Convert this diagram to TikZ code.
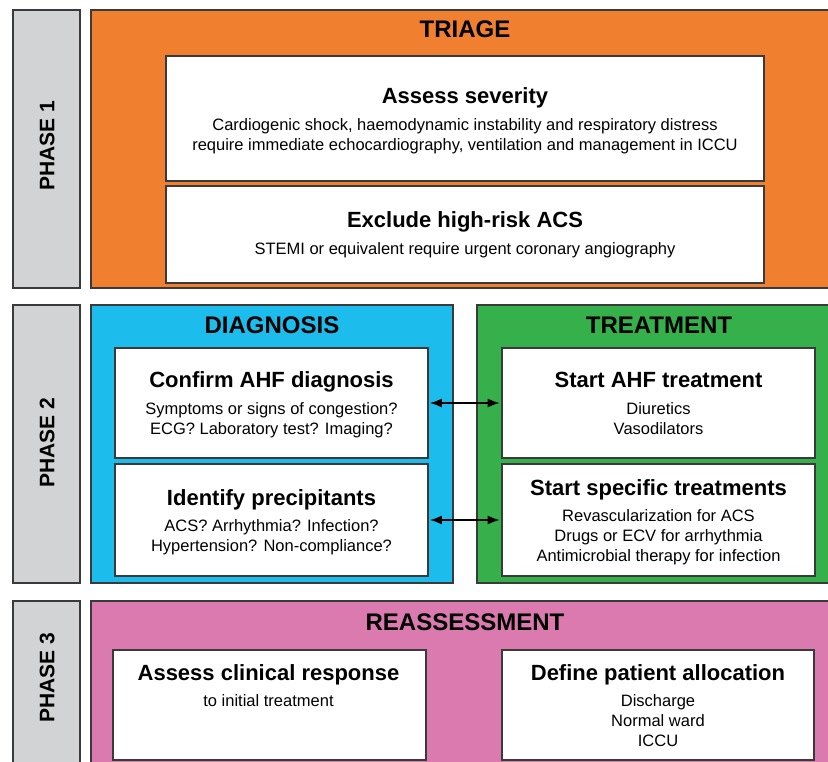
\documentclass[tikz,border=0pt]{standalone}
\usepackage{fontspec}
\setmainfont{Liberation Sans}
\usetikzlibrary{arrows.meta}
\definecolor{edge}{HTML}{3A3A3A}
\definecolor{phasegrey}{HTML}{D1D3D4}
\definecolor{triageorange}{HTML}{F07F30}
\definecolor{diagblue}{HTML}{1CBDEC}
\definecolor{treatgreen}{HTML}{36B04A}
\definecolor{reasspink}{HTML}{DA7AAE}
\begin{document}
\begin{tikzpicture}[x=1pt,y=-1pt,
  panel/.style={draw=edge, line width=1.6pt, inner sep=0pt, rectangle},
  phasebox/.style={panel, fill=phasegrey, minimum width=67pt},
  whitebox/.style={panel, fill=white},
  head/.style={font=\fontsize{22}{26}\selectfont\bfseries, anchor=base, inner sep=0pt},
  body/.style={font=\fontsize{16.5}{20}\selectfont, align=center, anchor=north, inner sep=0pt},
  ttl/.style={font=\fontsize{24}{28}\selectfont\bfseries, anchor=base, inner sep=0pt},
  phaselbl/.style={font=\fontsize{21}{24}\selectfont\bfseries, rotate=90, inner sep=0pt, text depth=0pt},
  arr/.style={draw=black, line width=1.6pt, {Latex[length=12pt,width=9pt]}-{Latex[length=12pt,width=9pt]}, shorten <=1pt, shorten >=1.5pt}
]
\useasboundingbox (0,0) rectangle (828,762);
\clip (0,0) rectangle (828,762);
\fill[white] (0,0) rectangle (828,762);

% ---------- PHASE 1 ----------
\node[phasebox, minimum height=278pt] (p1) at (46.5,149) {};
\node[phaselbl] (p1t) at (47,146) {PHASE 1};
\node[panel, fill=triageorange, minimum width=749pt, minimum height=278pt] (triage) at (465.5,149) {};
\node[ttl] (triaget) at (465,37.6) {TRIAGE};
\node[whitebox, minimum width=598pt, minimum height=125pt] (sev) at (465,118.5) {};
\node[head] (sevh) at (465,104) {Assess severity};
\node[body] (sevb) at (465,118) {Cardiogenic shock, haemodynamic instability and respiratory distress\\require immediate echocardiography, ventilation and management in ICCU};
\node[whitebox, minimum width=598pt, minimum height=97pt] (acs) at (465,234.5) {};
\node[head] (acsh) at (465,228) {Exclude high-risk ACS};
\node[body] (acsb) at (465,242) {STEMI or equivalent require urgent coronary angiography};

% ---------- PHASE 2 ----------
\node[phasebox, minimum height=278pt] (p2) at (46.5,444) {};
\node[phaselbl] (p2t) at (47,443) {PHASE 2};
\node[panel, fill=diagblue, minimum width=362pt, minimum height=278pt] (diag) at (272,444) {};
\node[ttl] (diagt) at (272,333.6) {DIAGNOSIS};
\node[panel, fill=treatgreen, minimum width=363pt, minimum height=278pt] (treat) at (658.5,444) {};
\node[ttl] (treatt) at (659,333.6) {TREATMENT};

\node[whitebox, minimum width=313pt, minimum height=110pt] (conf) at (271.5,403) {};
\node[head] (confh) at (271.5,388) {Confirm AHF diagnosis};
\node[body] (confb) at (271.5,402) {Symptoms or signs of congestion?\\ECG? Laboratory test? Imaging?};
\node[whitebox, minimum width=313pt, minimum height=112pt] (prec) at (271.5,520) {};
\node[head] (prech) at (271.5,505) {Identify precipitants};
\node[body] (precb) at (271.5,519) {ACS? Arrhythmia? Infection?\\Hypertension? Non-compliance?};

\node[whitebox, minimum width=313pt, minimum height=110pt] (ahf) at (658.5,403) {};
\node[head] (ahfh) at (658.5,388) {Start AHF treatment};
\node[body] (ahfb) at (658.5,402) {Diuretics\\Vasodilators};
\node[whitebox, minimum width=313pt, minimum height=112pt] (spec) at (658.5,520) {};
\node[head] (spech) at (658.5,495) {Start specific treatments};
\node[body] (specb) at (658.5,509) {Revascularization for ACS\\Drugs or ECV for arrhythmia\\Antimicrobial therapy for infection};

\draw[arr] (conf.east) -- (ahf.west);
\draw[arr] (prec.east) -- (spec.west);

% ---------- PHASE 3 ----------
\node[phasebox, minimum height=169pt] (p3) at (46.5,685.5) {};
\node[phaselbl] (p3t) at (47,678) {PHASE 3};
\node[panel, fill=reasspink, minimum width=749pt, minimum height=169pt] (reass) at (465.5,685.5) {};
\node[ttl] (reasst) at (465,630.6) {REASSESSMENT};
\node[whitebox, minimum width=313pt, minimum height=110pt] (resp) at (269.5,705) {};
\node[head] (resph) at (268.5,680) {Assess clinical response};
\node[body] (respb) at (268.5,694) {to initial treatment};
\node[whitebox, minimum width=312pt, minimum height=110pt] (alloc) at (658,705) {};
\node[head] (alloch) at (658,680) {Define patient allocation};
\node[body] (allocb) at (658,694) {Discharge\\Normal ward\\ICCU};
\end{tikzpicture}
\end{document}
